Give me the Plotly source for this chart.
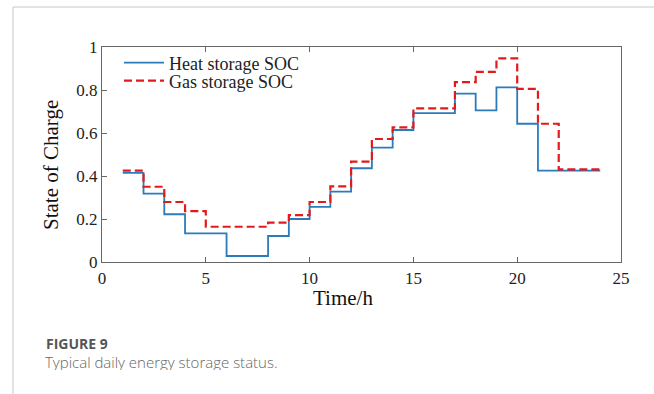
import plotly.graph_objects as go

# Hourly state of charge (value held from hour h to h+1)
hours = list(range(1, 25))
heat_soc = [0.415, 0.318, 0.222, 0.133, 0.133, 0.028, 0.028, 0.121, 0.200, 0.256,
            0.327, 0.436, 0.532, 0.614, 0.692, 0.692, 0.783, 0.705, 0.812, 0.643,
            0.425, 0.425, 0.425, 0.425]
gas_soc = [0.425, 0.350, 0.279, 0.237, 0.164, 0.164, 0.164, 0.183, 0.218, 0.279,
           0.352, 0.467, 0.572, 0.626, 0.715, 0.715, 0.837, 0.884, 0.947, 0.805,
           0.643, 0.431, 0.431, 0.431]

x_ticks = [0, 5, 10, 15, 20, 25]
y_ticks = [0, 0.2, 0.4, 0.6, 0.8, 1]

SERIF = "Liberation Serif, Times New Roman, serif"
W, H = 654, 394
L, R, T, B = 102, 33, 47, 132
PW, PH = W - L - R, H - T - B


def px_x(x):
    return (x - L) / PW


def px_y(y):
    return (H - B - y) / PH


fig = go.Figure()
fig.add_trace(go.Scatter(
    x=hours, y=heat_soc, mode="lines", name="Heat storage SOC",
    line=dict(shape="hv", color="#2b7bba", width=1.8), legend="legend"))
fig.add_trace(go.Scatter(
    x=hours, y=gas_soc, mode="lines", name="Gas storage SOC",
    line=dict(shape="hv", color="#e31a1c", width=2.2, dash="8px,4px"),
    legend="legend2"))

axis_common = dict(
    showline=True, linecolor="#666", linewidth=1.3, ticks="inside",
    ticklen=5, tickcolor="#666", showgrid=False, zeroline=False,
    tickfont=dict(family=SERIF, size=17, color="#222"))

fig.update_xaxes(range=[0, 25], tickvals=x_ticks, mirror="ticks", **axis_common)
fig.update_yaxes(range=[0, 1], tickvals=y_ticks, mirror=True, **axis_common)

legend_font = dict(family=SERIF, size=18, color="#222")
fig.update_layout(
    width=W, height=H,
    margin=dict(l=L, r=R, t=T, b=B),
    paper_bgcolor="white", plot_bgcolor="white",
    showlegend=True,
    legend=dict(x=px_x(119), y=px_y(63), xanchor="left", yanchor="middle",
                bgcolor="rgba(0,0,0,0)", font=legend_font, itemwidth=40),
    legend2=dict(x=px_x(119), y=px_y(81), xanchor="left", yanchor="middle",
                 bgcolor="rgba(0,0,0,0)", font=legend_font, itemwidth=40),
)

# Axis titles
fig.add_annotation(text="State of Charge", xref="paper", yref="paper",
                   x=px_x(51), y=px_y(165), textangle=-90, showarrow=False,
                   xanchor="center", yanchor="middle",
                   font=dict(family=SERIF, size=21, color="#111"))
fig.add_annotation(text="Time/h", xref="paper", yref="paper",
                   x=px_x(343), y=px_y(298), showarrow=False,
                   xanchor="center", yanchor="middle",
                   font=dict(family=SERIF, size=21, color="#111"))

# Caption
fig.add_annotation(text="<b>FIGURE 9</b>", xref="paper", yref="paper",
                   x=px_x(44), y=px_y(343), showarrow=False,
                   xanchor="left", yanchor="middle", height=14,
                   font=dict(family="Open Sans", size=14, color="#555"))
fig.add_annotation(text="Typical daily energy storage status.", xref="paper",
                   yref="paper", x=px_x(43), y=px_y(361), showarrow=False,
                   xanchor="left", yanchor="middle", height=17,
                   font=dict(family="Open Sans", size=15, color="#666",
                             weight=300))

# Page frame lines
fig.add_shape(type="line", xref="paper", yref="paper",
              x0=px_x(13), x1=px_x(654), y0=px_y(7), y1=px_y(7),
              line=dict(color="#c8c8c8", width=1))
fig.add_shape(type="line", xref="paper", yref="paper",
              x0=px_x(13), x1=px_x(13), y0=px_y(7), y1=px_y(394),
              line=dict(color="#c8c8c8", width=1))

fig.write_html("out.html")
